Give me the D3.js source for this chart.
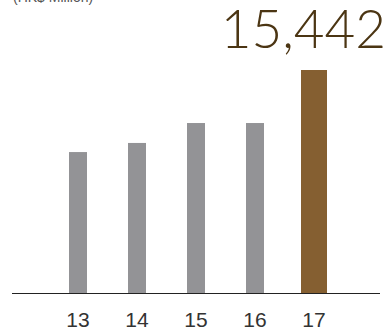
<!DOCTYPE html>
<html>
<head>
<meta charset="utf-8">
<script src="https://cdn.jsdelivr.net/npm/d3@7"></script>
<style>
  body { margin: 0; background: #fff; }
  text { font-family: "Liberation Sans", "DejaVu Sans", sans-serif; }
</style>
</head>
<body>
<div id="chart"></div>
<script>
// data
const years = ["13", "14", "15", "16", "17"];
const values = [9760, 10390, 11770, 11770, 15442];
const unitLabel = "(HK$ Million)";

const W = 389, H = 333;
const baseY = 293;

const svg = d3.select("#chart").append("svg")
    .attr("width", W).attr("height", H);

// bars centred on label positions
const x = d3.scalePoint().domain(years).range([78, 314]);
const y = d3.scaleLinear().domain([0, 15442]).range([baseY, 70]);

// bars (last one wider and brown)
svg.append("g").selectAll("rect")
    .data(values)
    .join("rect")
    .attr("x", (d, i) => x(years[i]) - (i === values.length - 1 ? 13 : 9))
    .attr("width", (d, i) => i === values.length - 1 ? 26 : 18)
    .attr("y", d => y(d))
    .attr("height", d => baseY - y(d))
    .attr("fill", (d, i) => i === values.length - 1 ? "#855f31" : "#939396");

// baseline
svg.append("line")
    .attr("x1", 12).attr("x2", 380)
    .attr("y1", baseY + 0.5).attr("y2", baseY + 0.5)
    .attr("stroke", "#222").attr("stroke-width", 1);

// category labels
svg.append("g").selectAll("text")
    .data(years)
    .join("text")
    .attr("x", d => x(d))
    .attr("y", 327)
    .attr("text-anchor", "middle")
    .attr("font-size", 21)
    .attr("fill", "#333")
    .text(d => d);

// highlighted value
svg.append("text")
    .attr("x", 386).attr("y", 48)
    .attr("text-anchor", "end")
    .attr("font-size", 53)
    .attr("font-weight", 300)
    .attr("fill", "#4b3513")
    .style("font-family", "Lato, 'Liberation Sans', sans-serif")
    .text(d3.format(",")(values[values.length - 1]));

// unit label, partly cut at the top as in the source
svg.append("text")
    .attr("x", 13).attr("y", 2)
    .attr("font-size", 14)
    .attr("fill", "#555")
    .text(unitLabel);
</script>
</body>
</html>
